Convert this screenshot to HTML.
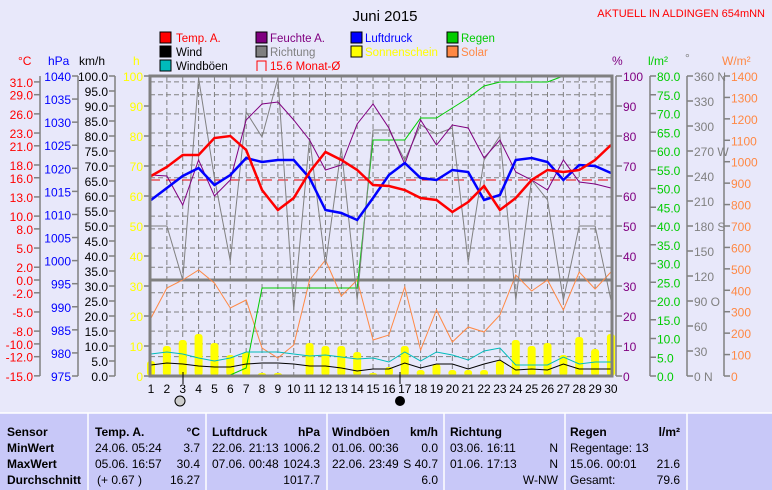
<!DOCTYPE html>
<html><head><meta charset="utf-8"><style>
body{margin:0;width:772px;height:490px;overflow:hidden;background:#e8e8fa;font-family:"Liberation Sans",sans-serif}
svg{position:absolute;left:0;top:0}
</style></head><body>
<svg width="772" height="490" viewBox="0 0 772 490" font-family="Liberation Sans, sans-serif" font-size="12">
<rect width="772" height="490" fill="#e8e8fa"/>
<text x="385" y="21" font-size="15" text-anchor="middle">Juni 2015</text>
<text x="765" y="17" font-size="11" fill="#f00" text-anchor="end">AKTUELL IN ALDINGEN 654mNN</text>
<g font-size="11.5">
<rect x="160" y="32" width="11" height="11" fill="#f00" stroke="#000"/><text x="176" y="42" fill="#f00">Temp. A.</text>
<rect x="160" y="46" width="11" height="11" fill="#000" stroke="#000"/><text x="176" y="56">Wind</text>
<rect x="160" y="60" width="11" height="11" fill="#0bb" stroke="#000"/><text x="176" y="70">Windböen</text>
<rect x="256" y="32" width="11" height="11" fill="#800080" stroke="#000"/><text x="270" y="42" fill="#800080">Feuchte A.</text>
<rect x="256" y="46" width="11" height="11" fill="#808080" stroke="#000"/><text x="270" y="56" fill="#808080">Richtung</text>
<path d="M257 71V61h9v10" fill="none" stroke="#f00"/><text x="270" y="70" fill="#f00">15.6 Monat-Ø</text>
<rect x="351" y="32" width="11" height="11" fill="#00f" stroke="#000"/><text x="365" y="42" fill="#00f">Luftdruck</text>
<rect x="351" y="46" width="11" height="11" fill="#ff0" stroke="#000"/><text x="365" y="56" fill="#ff0">Sonnenschein</text>
<rect x="447" y="32" width="11" height="11" fill="#0c0" stroke="#000"/><text x="461" y="42" fill="#0c0">Regen</text>
<rect x="447" y="46" width="11" height="11" fill="#f84" stroke="#000"/><text x="461" y="56" fill="#f84">Solar</text>
</g>
<g font-size="12">
<text x="18" y="65" fill="#f00">°C</text><text x="48" y="65" fill="#00f">hPa</text><text x="79" y="65">km/h</text><text x="133" y="65" fill="#ff0">h</text>
<text x="612" y="65" fill="#800080">%</text><text x="648" y="65" fill="#0c0">l/m²</text><text x="685" y="62" fill="#808080">°</text><text x="722" y="65" fill="#f84">W/m²</text>
</g>
<g stroke="#808080" stroke-width="1.5">
<line x1="40" y1="76" x2="40" y2="376"/><line x1="78" y1="76" x2="78" y2="376"/><line x1="115" y1="76" x2="115" y2="376"/>
<line x1="616" y1="76" x2="616" y2="376"/><line x1="650" y1="76" x2="650" y2="376"/><line x1="687" y1="76" x2="687" y2="376"/><line x1="724" y1="76" x2="724" y2="376"/>
</g>
<g id="ticks" font-size="12"></g>
<rect x="150" y="76" width="462" height="300" fill="#e8e8fa"/>
<g id="grid" stroke="#808080" stroke-dasharray="5,3" stroke-width="1"></g>
<line x1="150" y1="180" x2="612" y2="180" stroke="#e00" stroke-dasharray="10,6" stroke-width="1"/>
<line x1="150" y1="280" x2="612" y2="280" stroke="#808080" stroke-width="3"/>
<g id="bars" fill="#ff0"></g>
<g id="lines" fill="none"></g>
<rect x="150" y="76" width="462" height="300" fill="none" stroke="#808080" stroke-width="3"/>
<g id="xl" font-size="12" text-anchor="middle"></g>
<line x1="183" y1="372" x2="183" y2="384" stroke="#000"/>
<line x1="400" y1="372" x2="400" y2="384" stroke="#000"/>
<circle cx="180" cy="401" r="5" fill="#ccc" stroke="#000"/>
<circle cx="400" cy="401" r="5" fill="#000"/>
<rect x="0" y="413" width="772" height="77" fill="#c8c8f8"/>
<g stroke="#fff" stroke-width="1.5"><line x1="0" y1="413" x2="772" y2="413"/>
<line x1="88" y1="413" x2="88" y2="490"/><line x1="206" y1="413" x2="206" y2="490"/><line x1="327" y1="413" x2="327" y2="490"/><line x1="444" y1="413" x2="444" y2="490"/><line x1="565" y1="413" x2="565" y2="490"/><line x1="687" y1="413" x2="687" y2="490"/></g>
<g font-size="12">
<g font-weight="bold"><text x="7" y="436">Sensor</text><text x="7" y="452">MinWert</text><text x="7" y="468">MaxWert</text><text x="7" y="484">Durchschnitt</text>
<text x="95" y="436">Temp. A.</text><text x="200" y="436" text-anchor="end">°C</text>
<text x="212" y="436">Luftdruck</text><text x="320" y="436" text-anchor="end">hPa</text>
<text x="332" y="436">Windböen</text><text x="438" y="436" text-anchor="end">km/h</text>
<text x="450" y="436">Richtung</text>
<text x="570" y="436">Regen</text><text x="680" y="436" text-anchor="end">l/m²</text></g>
<text x="95" y="452">24.06.  05:24</text><text x="200" y="452" text-anchor="end">3.7</text>
<text x="95" y="468">05.06.  16:57</text><text x="200" y="468" text-anchor="end">30.4</text>
<text x="97" y="484">(+ 0.67 )</text><text x="200" y="484" text-anchor="end">16.27</text>
<text x="212" y="452">22.06.  21:13</text><text x="320" y="452" text-anchor="end">1006.2</text>
<text x="212" y="468">07.06.  00:48</text><text x="320" y="468" text-anchor="end">1024.3</text>
<text x="320" y="484" text-anchor="end">1017.7</text>
<text x="332" y="452">01.06.  00:36</text><text x="438" y="452" text-anchor="end">0.0</text>
<text x="332" y="468">22.06.  23:49</text><text x="438" y="468" text-anchor="end">S 40.7</text>
<text x="438" y="484" text-anchor="end">6.0</text>
<text x="450" y="452">03.06.  16:11</text><text x="558" y="452" text-anchor="end">N</text>
<text x="450" y="468">01.06.  17:13</text><text x="558" y="468" text-anchor="end">N</text>
<text x="558" y="484" text-anchor="end">W-NW</text>
<text x="570" y="452">Regentage: 13</text>
<text x="570" y="468">15.06.  00:01</text><text x="680" y="468" text-anchor="end">21.6</text>
<text x="570" y="484">Gesamt:</text><text x="680" y="484" text-anchor="end">79.6</text>
</g>
</svg>
<script>
const NS="http://www.w3.org/2000/svg";
function el(p,t,a,txt){const e=document.createElementNS(NS,t);for(const k in a)e.setAttribute(k,a[k]);if(txt!==undefined)e.textContent=txt;document.getElementById(p).appendChild(e);return e;}
function tick(x,y,lab,col,side){
 el('ticks','line',{x1:side=='L'?x-6:x,y1:y,x2:side=='L'?x:x+6,y2:y,stroke:'#808080','stroke-width':1.5});
 el('ticks','text',{x:side=='L'?x-7:x+7,y:y+5,fill:col,'text-anchor':side=='L'?'end':'start'},lab);}
const temps=[31,29,26,23,21,18,16,13,10,8,5,2,0,-2,-5,-8,-10,-12,-15];
temps.forEach(t=>tick(40,280-t*6.39,t.toFixed(1),'#f00','L'));
for(let p=1040;p>=975;p-=5)tick(78,76+(1040-p)*300/65,String(p),'#00f','L');
for(let k=100;k>=0;k-=5)tick(115,376-k*3,k.toFixed(1),'#000','L');
for(let h=100;h>=0;h-=10)tick(150,376-h*3,String(h),'#ff0','L');
for(let h=100;h>=0;h-=10)tick(616,376-h*3,String(h),'#800080','R');
for(let r=80;r>=0;r-=5)tick(650,376-r*3.75,r.toFixed(1),'#0c0','R');
const dirs={360:'360 N',270:'270 W',180:'180 S',90:'90 O',0:'0 N'};
for(let d=360;d>=0;d-=30)tick(687,376-d*300/360,dirs[d]||String(d),'#808080','R');
for(let w=1400;w>=0;w-=100)tick(724,376-w*300/1400,String(w),'#f84','R');
temps.forEach(t=>{const y=280-t*6.39;if(y>80&&y<372&&t!==0)el('grid','line',{x1:150,y1:y,x2:612,y2:y});});
const X=d=>151+(d-1)*15.86;
for(let d=2;d<=29;d++)el('grid','line',{x1:X(d),y1:76,x2:X(d),y2:376});
for(let d=1;d<=30;d++)el('xl','text',{x:X(d),y:393},String(d));
const sun=[5,10,12,14,11,7,8,1,1,0,11,10,10,8,1,3,10,2,4,2,2,2,5,12,10,11,7,13,9,14];
sun.forEach((h,i)=>{if(h>0)el('bars','rect',{x:X(i+1)-4,y:376-h*3,width:8,height:h*3,rx:3});});
function line(ys,col,w){el('lines','polyline',{points:ys.map((y,i)=>X(i+1)+','+y).join(' '),stroke:col,'stroke-width':w||1});}
line([318,288,280,270,283,308,300,348,358,345,280,260,296,280,340,335,287,350,310,342,327,332,315,275,291,280,310,272,289,272],'#f84');
line([375,375,375,375,375,375,368,288,288,288,288,288,288,288,140,140,140,118,118,108,98,86,82,82,82,82,76,76,76,76],'#0c0');
line([226,226,280,78,178,261,112,137,78,310,138,265,148,300,130,130,160,125,134,128,262,160,136,300,180,200,300,226,226,300],'#808080');
line([175,176,205,160,196,180,120,104,102,120,140,170,165,124,104,128,164,120,145,125,128,158,140,172,180,190,160,182,184,188],'#800080');
line([354,352,354,358,361,358,352,352,352,354,356,355,357,359,358,362,352,361,352,355,360,351,348,365,365,365,357,364,362,362],'#0bb');
line([365,363,364,366,367,367,364,363,363,364,366,366,368,371,369,369,363,368,364,364,369,364,360,370,369,370,364,369,369,369],'#000');
line([200,188,176,168,185,175,158,162,160,160,178,210,213,220,198,175,163,178,180,170,172,200,195,160,158,162,180,165,166,173],'#00f',2.5);
line([176,167,155,155,138,136,150,190,210,198,172,152,160,170,185,186,190,198,200,212,202,186,210,198,180,170,172,170,160,145],'#f00',2.5);
</script>
</body></html>
